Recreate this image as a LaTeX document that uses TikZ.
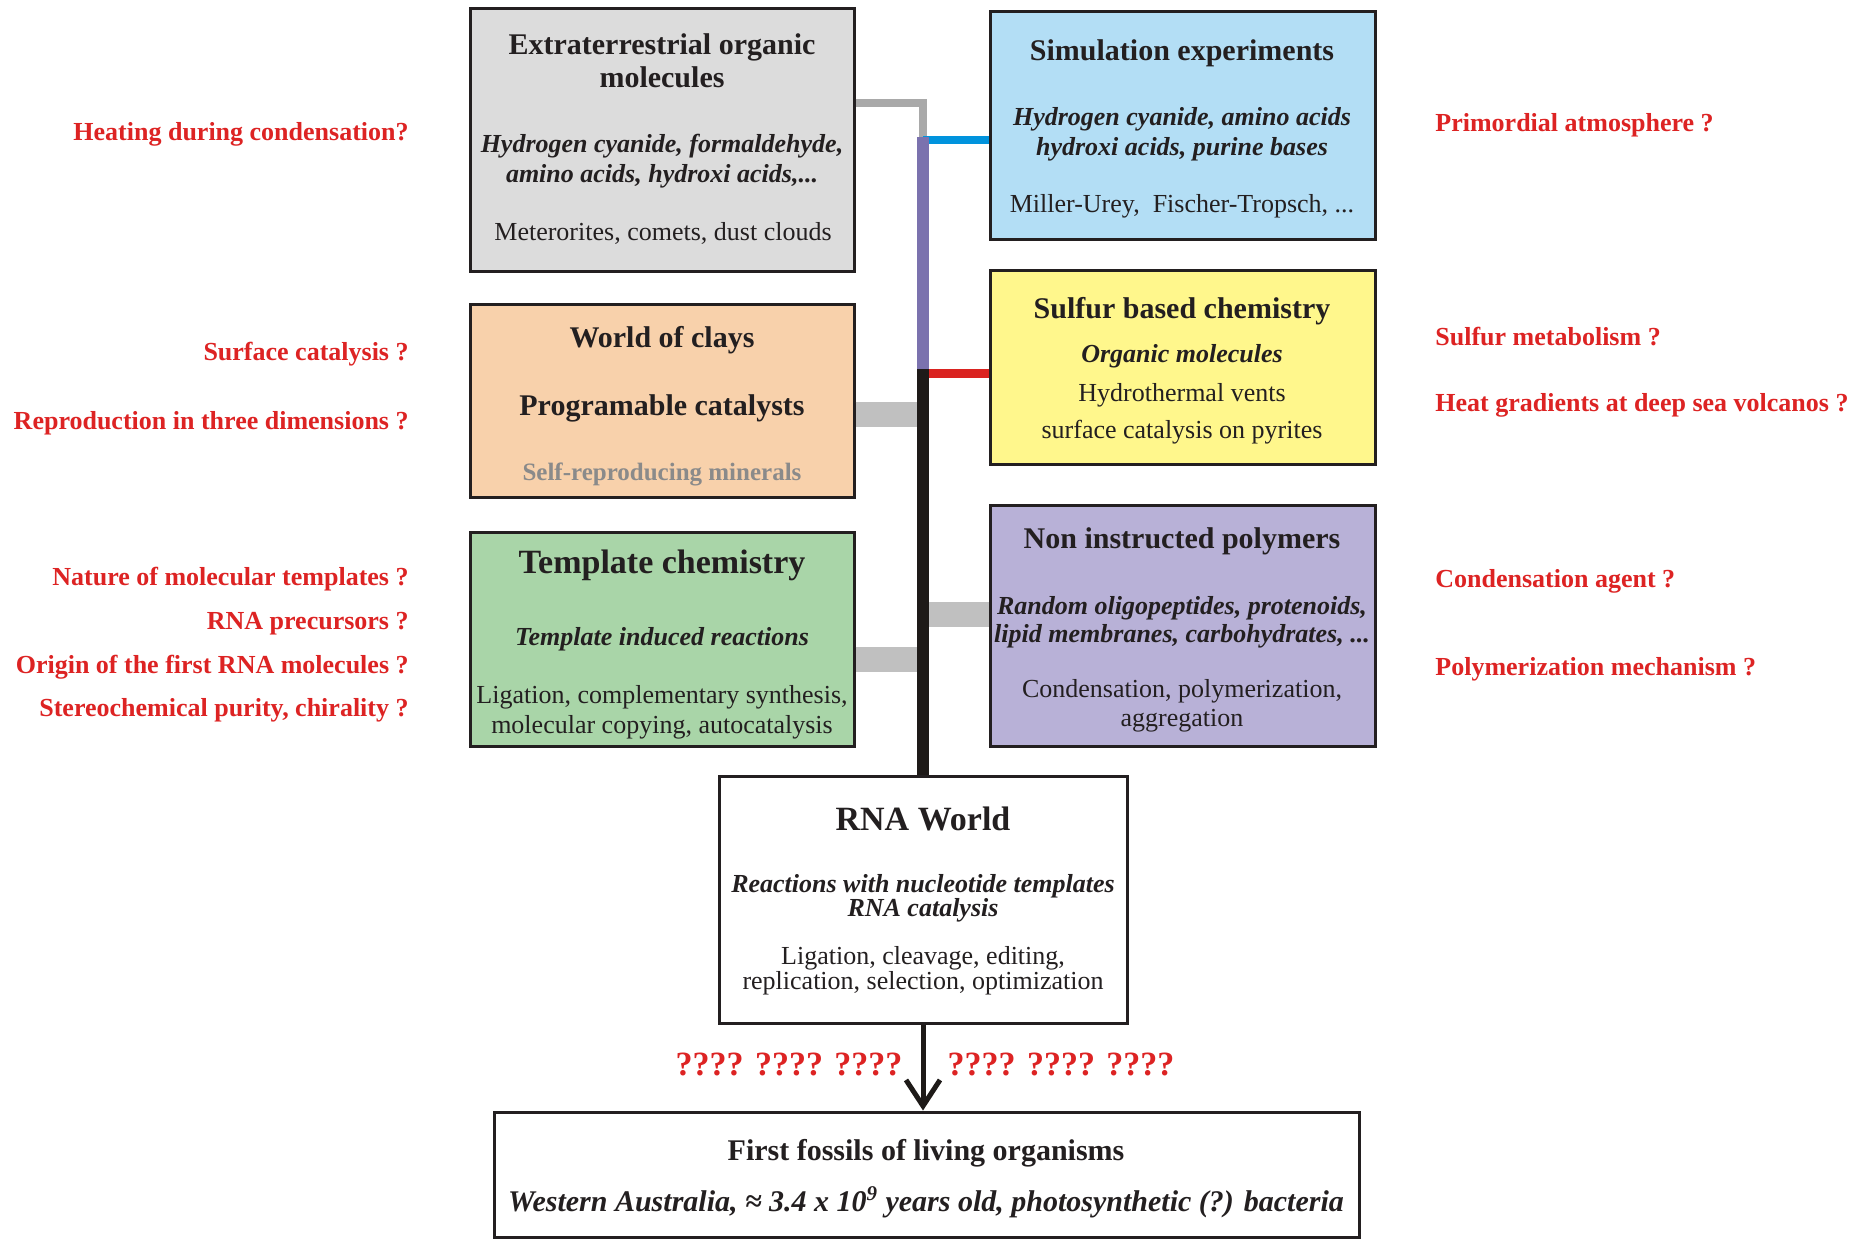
\documentclass[tikz,border=0pt]{standalone}
\usepackage{fontspec}
\setmainfont{Liberation Serif}
\usetikzlibrary{arrows.meta}
\definecolor{boxline}{HTML}{231F20}
\definecolor{gbox}{HTML}{DCDCDC}
\definecolor{bbox}{HTML}{B3DEF5}
\definecolor{obox}{HTML}{F8D1AB}
\definecolor{ybox}{HTML}{FFF78C}
\definecolor{grbox}{HTML}{A9D5A8}
\definecolor{pbox}{HTML}{B8B1D7}
\definecolor{qred}{HTML}{DD2323}
\definecolor{conn}{HTML}{A9A9A9}
\definecolor{band}{HTML}{C0C0C0}
\definecolor{bline}{HTML}{0093DD}
\definecolor{ptrunk}{HTML}{7B72AE}
\definecolor{rline}{HTML}{DA2320}
\definecolor{btrunk}{HTML}{1E1A18}
\definecolor{mingrey}{HTML}{8A8A8A}
\begin{document}
\begin{tikzpicture}[x=0.5pt,y=-0.5pt,
  box/.style={draw=boxline,line width=1.5pt,inner sep=0pt},
  txt/.style={inner sep=0pt,text=boxline,text height=0.72em,text depth=0.22em,yshift=-2pt},
  ttl/.style={txt,font=\fontsize{15}{18}\selectfont\bfseries},
  bigttl/.style={txt,font=\fontsize{17}{20}\selectfont\bfseries},
  itl/.style={txt,font=\fontsize{13}{15}\selectfont\bfseries\itshape},
  reg/.style={txt,font=\fontsize{13}{15}\selectfont},
  qs/.style={txt,text=qred,font=\fontsize{13}{15}\selectfont\bfseries},
  qbig/.style={txt,text=qred,font=\fontsize{17}{20}\selectfont\bfseries},
  greyc/.style={draw=conn,line width=4pt},
  bandc/.style={draw=band,line width=12.5pt},
  trunk/.style={line width=6pt}
]
\useasboundingbox[fill=white] (0,0) rectangle (1855,1239);

% boxes
\node[box,fill=gbox,minimum width=384*0.5pt,minimum height=263*0.5pt] (ext) at (662,139.5) {};
\node[box,fill=bbox,minimum width=385*0.5pt,minimum height=228*0.5pt] (sim) at (1182.5,125) {};
\node[box,fill=obox,minimum width=384*0.5pt,minimum height=193*0.5pt] (clay) at (662,400.5) {};
\node[box,fill=ybox,minimum width=385*0.5pt,minimum height=194*0.5pt] (sulf) at (1182.5,367) {};
\node[box,fill=grbox,minimum width=384*0.5pt,minimum height=214*0.5pt] (tmpl) at (662,639) {};
\node[box,fill=pbox,minimum width=385*0.5pt,minimum height=241*0.5pt] (poly) at (1182.5,625.5) {};
\node[box,fill=white,minimum width=408*0.5pt,minimum height=247*0.5pt] (rna) at (923,899.5) {};
\node[box,fill=white,minimum width=865*0.5pt,minimum height=125*0.5pt] (foss) at (926.5,1174.5) {};

% junction coordinates
\coordinate (j0) at (923,103);
\coordinate (j1) at (923,137);
\coordinate (j2) at (923,369);
\coordinate (jb) at (923,140);
\coordinate (jr) at (923,373);
\coordinate (jc) at (923,414);
\coordinate (jt) at (923,659);
\coordinate (jp) at (923,614);

% horizontal connectors
\draw[greyc] (ext.east |- j0) -- (j0) -- (j1);
\draw[draw=bline,line width=4pt] (jb) -- (sim.west |- jb);
\draw[draw=rline,line width=4.5pt] (jr) -- (sulf.west |- jr);
\draw[bandc] (clay.east |- jc) -- (jc);
\draw[bandc] (tmpl.east |- jt) -- (jt);
\draw[bandc] (jp) -- (poly.west |- jp);
% trunk
\draw[trunk,draw=ptrunk] (j1) -- (j2);
\draw[trunk,draw=btrunk] (j2) -- (rna.north);
% arrow
\draw[draw=btrunk,line width=2.5pt,-{Straight Barb[length=13pt,width=17pt]}] (rna.south) -- (rna.south |- foss.north);

% extraterrestrial
\node[ttl] (ext1) at (662,45) {Extraterrestrial organic};
\node[ttl] (ext2) at (662,78) {molecules};
\node[itl] (ext3) at (662,143) {Hydrogen cyanide, formaldehyde,};
\node[itl] (ext4) at (662,173) {amino acids, hydroxi acids,...};
\node[reg] (ext5) at (663,231) {Meterorites, comets, dust clouds};
% simulation
\node[ttl] (sim1) at (1182,51) {Simulation experiments};
\node[itl] (sim2) at (1182,116) {Hydrogen cyanide, amino acids};
\node[itl] (sim3) at (1182,146) {hydroxi acids, purine bases};
\node[reg] (sim4) at (1182,203) {Miller-Urey,\ \ Fischer-Tropsch, ...};
% clays
\node[ttl] (clay1) at (662,338) {World of clays};
\node[ttl] (clay2) at (662,406) {Programable catalysts};
\node[txt,text=mingrey,font=\fontsize{12.5}{15}\selectfont\bfseries] (clay3) at (662,471) {Self-reproducing minerals};
% sulfur
\node[ttl] (sulf1) at (1182,309) {Sulfur based chemistry};
\node[itl] (sulf2) at (1182,353) {Organic molecules};
\node[reg] (sulf3) at (1182,392) {Hydrothermal vents};
\node[reg] (sulf4) at (1182,429) {surface catalysis on pyrites};
% template
\node[bigttl] (tmpl1) at (662,564) {Template chemistry};
\node[itl] (tmpl2) at (662,636) {Template induced reactions};
\node[reg] (tmpl3) at (662,694) {Ligation, complementary synthesis,};
\node[reg] (tmpl4) at (662,724) {molecular copying, autocatalysis};
% polymers
\node[ttl] (poly1) at (1182,539) {Non instructed polymers};
\node[itl] (poly2) at (1182,605) {Random oligopeptides, protenoids,};
\node[itl] (poly3) at (1182,633) {lipid membranes, carbohydrates, ...};
\node[reg] (poly4) at (1182,688) {Condensation, polymerization,};
\node[reg] (poly5) at (1182,717) {aggregation};
% RNA
\node[bigttl] (rna1) at (923,821) {RNA World};
\node[itl] (rna2) at (923,883) {Reactions with nucleotide templates};
\node[itl] (rna3) at (923,907) {RNA catalysis};
\node[reg] (rna4) at (923,955) {Ligation, cleavage, editing,};
\node[reg] (rna5) at (923,980) {replication, selection, optimization};
% fossils
\node[ttl] (foss1) at (926,1151) {First fossils of living organisms};
\node[ttl,font=\fontsize{15}{18}\selectfont\bfseries\itshape] (foss2) at (926,1202) {Western Australia, ≈ 3.4 x 10\textsuperscript{9} years old, photosynthetic (?) bacteria};

% question marks
\node[qbig] (qm1) at (789,1066) {???? ???? ????};
\node[qbig] (qm2) at (1061,1066) {???? ???? ????};

% left questions
\node[qs,anchor=east] (ql1) at (409,131) {Heating during condensation?};
\node[qs,anchor=east] (ql2) at (409,351) {Surface catalysis ?};
\node[qs,anchor=east] (ql3) at (409,420) {Reproduction in three dimensions ?};
\node[qs,anchor=east] (ql4) at (409,576) {Nature of molecular templates ?};
\node[qs,anchor=east] (ql5) at (409,620) {RNA precursors ?};
\node[qs,anchor=east] (ql6) at (409,664) {Origin of the first RNA molecules ?};
\node[qs,anchor=east] (ql7) at (409,707) {Stereochemical purity, chirality ?};
% right questions
\node[qs,anchor=west] (qr1) at (1435,122) {Primordial atmosphere ?};
\node[qs,anchor=west] (qr2) at (1435,336) {Sulfur metabolism ?};
\node[qs,anchor=west] (qr3) at (1435,402) {Heat gradients at deep sea volcanos ?};
\node[qs,anchor=west] (qr4) at (1435,578) {Condensation agent ?};
\node[qs,anchor=west] (qr5) at (1435,666) {Polymerization mechanism ?};
\end{tikzpicture}
\end{document}
